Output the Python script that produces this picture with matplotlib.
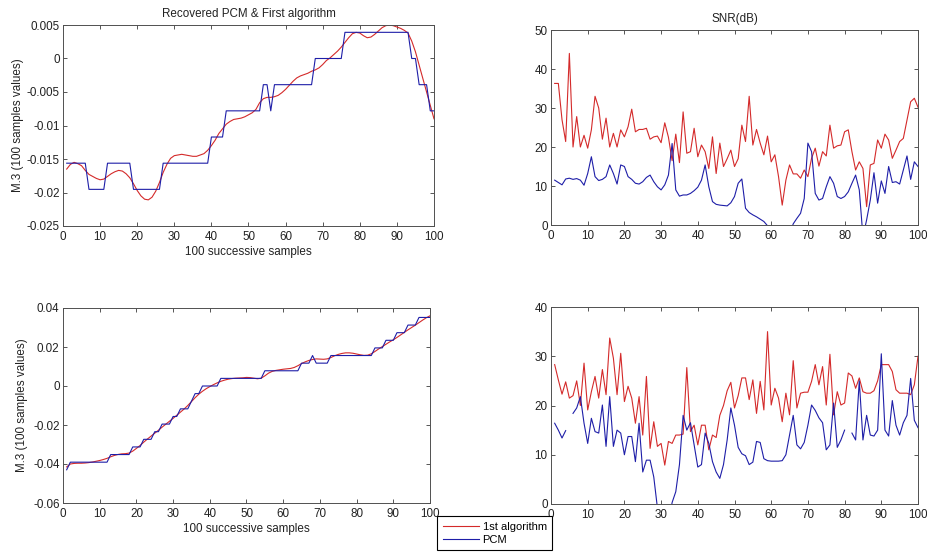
import numpy as np
import matplotlib
matplotlib.use("Agg")
import matplotlib.pyplot as plt
from matplotlib.ticker import FuncFormatter

plt.rcParams['font.family'] = ['Liberation Sans', 'DejaVu Sans']

samples = np.arange(1, 101)
q_step = 1.0 / 256  # PCM quantization step

# ---- top row: block 1 ----
pcm_levels_1 = ([-4] * 6 + [-5] * 5 + [-4] * 7 + [-5] * 8 + [-4] * 13 + [-3] * 4 +
                [-2] * 10 + [-1] * 2 + [-2] * 1 + [-1] * 11 + [0] * 8 + [1] * 18 +
                [0] * 2 + [-1] * 3 + [-2] * 2)
alg_1 = [-0.0165, -0.0158, -0.0155, -0.0157, -0.0160, -0.0167, -0.0173, -0.0176, -0.0179, -0.0181,
         -0.0180, -0.0176, -0.0172, -0.0169, -0.0167, -0.0168, -0.0172, -0.0178, -0.0187, -0.0197,
         -0.0205, -0.0210, -0.0211, -0.0207, -0.0198, -0.0185, -0.0170, -0.0158, -0.0149, -0.0145,
         -0.0144, -0.0143, -0.0144, -0.0145, -0.0146, -0.0146, -0.0144, -0.0142, -0.0137, -0.0130,
         -0.0122, -0.0112, -0.0105, -0.0098, -0.0094, -0.0091, -0.0090, -0.0089, -0.0087, -0.0084,
         -0.0081, -0.0076, -0.0066, -0.0060, -0.0058, -0.0058, -0.0057, -0.0055, -0.0051, -0.0046,
         -0.0040, -0.0034, -0.0029, -0.0026, -0.0024, -0.0022, -0.0019, -0.0017, -0.0014, -0.0009,
         -0.0003, 0.0001, 0.0006, 0.0011, 0.0017, 0.0024, 0.0031, 0.0037, 0.0039, 0.0038,
         0.0034, 0.0031, 0.0032, 0.0036, 0.0041, 0.0046, 0.0049, 0.0050, 0.0049, 0.0047,
         0.0045, 0.0042, 0.0038, 0.0026, 0.0010, -0.0010, -0.0030, -0.0050, -0.0070, -0.0090]
snr_alg_1 = [36.3, 36.3, 27.0, 21.4, 44.0, 20.0, 27.8, 20.0, 23.0, 19.7,
             24.4, 33.0, 30.0, 22.0, 27.4, 20.0, 23.5, 20.0, 24.4, 22.6,
             25.2, 29.7, 23.9, 24.5, 24.5, 24.8, 22.0, 22.6, 22.8, 21.1,
             26.2, 22.5, 16.5, 23.3, 16.0, 29.0, 18.4, 18.8, 24.8, 17.5,
             20.5, 18.8, 14.5, 22.6, 13.2, 21.0, 15.0, 17.0, 19.2, 15.0,
             17.0, 25.6, 21.4, 33.0, 20.5, 24.5, 21.0, 18.0, 22.8, 16.2,
             18.0, 12.4, 5.1, 11.5, 15.4, 13.1, 13.1, 12.0, 14.1, 12.4,
             17.1, 19.7, 15.1, 18.8, 17.7, 25.6, 19.7, 20.3, 20.5, 23.9,
             24.4, 18.8, 14.1, 16.2, 14.5, 4.7, 15.4, 15.8, 21.8, 19.7,
             23.3, 21.8, 17.1, 19.2, 21.4, 22.2, 26.9, 31.6, 32.5, 30.2]
snr_pcm_1 = [11.5, 10.9, 10.3, 11.8, 12.0, 11.7, 11.9, 11.5, 10.2, 13.2,
             17.5, 12.4, 11.4, 11.7, 12.4, 15.4, 13.2, 10.5, 15.4, 15.0,
             12.4, 11.7, 10.7, 10.5, 11.1, 12.2, 12.8, 11.1, 9.8, 9.0,
             10.3, 12.8, 20.9, 9.0, 7.4, 7.7, 7.7, 8.1, 8.8, 9.7,
             11.5, 15.4, 9.8, 6.0, 5.3, 5.1, 5.0, 4.9, 5.7, 7.3,
             10.7, 11.8, 4.3, 3.2, 2.6, 2.1, 1.5, 0.9, -0.2, -2.0,
             -4.0, -5.0, -5.0, -4.0, -2.5, 0.3, 1.7, 3.0, 6.8, 21.0,
             18.8, 8.1, 6.4, 6.8, 9.8, 12.4, 10.7, 7.3, 6.8, 7.3,
             8.5, 10.7, 12.8, 9.0, -3.0, 1.3, 6.4, 13.4, 5.6, 11.3,
             8.1, 15.0, 10.9, 11.1, 10.5, 14.1, 17.7, 11.7, 16.2, 15.0]

# ---- bottom row: block 2 ----
pcm_levels_2 = ([-11] + [-10] * 11 + [-9] * 6 + [-8] * 3 + [-7] * 3 + [-6] * 2 +
                [-5] * 3 + [-4] * 2 + [-3] * 3 + [-2] * 1 + [-1] * 2 + [0] * 5 +
                [1] * 12 + [2] * 10 + [3] * 3 + [4] * 1 + [3] * 4 + [4] * 12 +
                [5] * 3 + [6] * 3 + [7] * 3 + [8] * 3 + [9] * 4)
alg_2 = [-0.0415, -0.0400, -0.0397, -0.0396, -0.0396, -0.0395, -0.0393, -0.0390, -0.0386, -0.0382,
         -0.0377, -0.0371, -0.0363, -0.0356, -0.0351, -0.0348, -0.0347, -0.0344, -0.0334, -0.0320,
         -0.0305, -0.0288, -0.0272, -0.0257, -0.0242, -0.0227, -0.0211, -0.0196, -0.0181, -0.0166,
         -0.0150, -0.0134, -0.0118, -0.0100, -0.0080, -0.0060, -0.0042, -0.0027, -0.0014, -0.0003,
         0.0007, 0.0016, 0.0024, 0.0030, 0.0035, 0.0038, 0.0040, 0.0041, 0.0042, 0.0044,
         0.0043, 0.0040, 0.0037, 0.0040, 0.0052, 0.0066, 0.0075, 0.0080, 0.0083, 0.0086,
         0.0088, 0.0090, 0.0095, 0.0104, 0.0115, 0.0124, 0.0131, 0.0136, 0.0139, 0.0138,
         0.0137, 0.0139, 0.0146, 0.0155, 0.0162, 0.0167, 0.0170, 0.0170, 0.0168, 0.0164,
         0.0160, 0.0157, 0.0158, 0.0165, 0.0177, 0.0190, 0.0202, 0.0214, 0.0226, 0.0237,
         0.0249, 0.0262, 0.0275, 0.0288, 0.0300, 0.0312, 0.0325, 0.0338, 0.0350, 0.0360]
snr_alg_2 = [28.3, 25.2, 22.3, 24.8, 21.5, 22.0, 25.0, 20.0, 28.6, 19.1,
             22.8, 25.9, 21.5, 27.3, 22.2, 33.7, 29.6, 22.2, 30.6, 20.8,
             23.9, 21.5, 16.4, 21.8, 14.0, 25.9, 11.3, 16.7, 11.7, 12.3,
             7.9, 12.7, 12.3, 14.0, 14.0, 14.2, 27.7, 14.7, 16.0, 12.0,
             16.0, 16.0, 11.0, 14.0, 13.5, 18.0, 20.0, 23.0, 24.7, 19.5,
             22.0, 25.6, 25.6, 21.2, 25.2, 18.4, 24.9, 19.1, 35.0, 20.1,
             23.5, 21.5, 16.7, 22.5, 18.1, 29.1, 19.5, 22.5, 22.7, 22.7,
             24.9, 28.3, 24.2, 27.9, 20.1, 30.4, 18.1, 22.8, 20.1, 20.5,
             26.6, 26.0, 23.5, 25.6, 22.8, 22.5, 22.5, 23.0, 25.0, 28.3,
             28.3, 28.3, 26.9, 23.2, 22.5, 22.5, 22.5, 22.2, 24.2, 30.0]
snr_pcm_2 = [16.4, 15.0, 13.4, 14.9, np.nan, 18.4, 19.5, 21.8, 16.4, 12.3,
             17.4, 14.7, 14.4, 20.1, 11.7, 21.8, 11.7, 15.0, 14.4, 10.0,
             13.7, 13.7, 8.6, 16.4, 6.5, 8.9, 8.9, 5.5, -0.8, -4.0,
             -6.0, -4.0, 0.3, 2.5, 8.0, 18.0, 15.0, 16.5, 12.0, 7.5,
             8.0, 14.4, 12.3, 8.6, 6.5, 5.2, 8.0, 13.0, 19.5, 16.0,
             11.5, 10.2, 9.8, 8.0, 8.5, 12.7, 12.5, 9.2, 8.8, 8.7,
             8.7, 8.7, 8.8, 10.0, 14.0, 18.0, 12.0, 11.2, 12.5, 16.0,
             20.1, 19.0, 17.5, 16.5, 11.0, 12.0, 20.5, 11.5, 13.0, 15.0,
             np.nan, 14.4, 13.0, 25.0, 13.0, 18.0, 14.0, 13.8, 15.0, 30.5,
             15.0, 13.8, 21.0, 16.0, 14.0, 16.5, 18.0, 25.5, 17.0, 15.5]

RED = '#d42a2a'
BLUE = '#1e1ea8'
TXT = '#222222'
FS = 8.4
W, H = 927, 555


def px_axes(fig, left, top, right, bottom):
    return fig.add_axes([left / W, 1 - bottom / H, (right - left) / W, (bottom - top) / H])


def style(ax, ylim, yticks):
    ax.set_xlim(0, 100)
    ax.set_ylim(*ylim)
    ax.set_xticks(np.arange(0, 101, 10))
    ax.set_yticks(yticks)
    ax.yaxis.set_major_formatter(FuncFormatter(lambda v, p: '%g' % round(v, 6)))
    ax.tick_params(direction='in', top=True, right=True, length=3, width=0.6,
                   labelsize=FS, colors='#3a3a3a', labelcolor=TXT)
    ax.tick_params(axis='x', pad=3.5)
    ax.tick_params(axis='y', pad=2.5)
    for s in ax.spines.values():
        s.set_linewidth(0.7)
        s.set_color('#505050')


fig = plt.figure(figsize=(W / 100, H / 100), dpi=100)

ax1 = px_axes(fig, 63, 25, 434, 226)
ax1.plot(samples, alg_1, color=RED, lw=0.8)
ax1.plot(samples, np.array(pcm_levels_1) * q_step, color=BLUE, lw=0.8)
style(ax1, (-0.025, 0.005), np.arange(-0.025, 0.0051, 0.005))
ax1.set_title('Recovered PCM & First algorithm', fontsize=FS, pad=6, color=TXT)
ax1.set_xlabel('100 successive samples', fontsize=FS, labelpad=2, color=TXT)
ax1.set_ylabel('M.3 (100 samples values)', fontsize=FS, labelpad=2, color=TXT)

ax2 = px_axes(fig, 551, 30, 918, 225)
ax2.plot(samples, snr_alg_1, color=RED, lw=0.8)
ax2.plot(samples, snr_pcm_1, color=BLUE, lw=0.8)
style(ax2, (0, 50), np.arange(0, 51, 10))
ax2.set_title('SNR(dB)', fontsize=FS, pad=6, color=TXT)

ax3 = px_axes(fig, 63, 308, 430, 503)
ax3.plot(samples, alg_2, color=RED, lw=0.8)
ax3.plot(samples, np.array(pcm_levels_2) * q_step, color=BLUE, lw=0.8)
style(ax3, (-0.06, 0.04), np.arange(-0.06, 0.041, 0.02))
ax3.set_xlabel('100 successive samples', fontsize=FS, labelpad=2, color=TXT)
ax3.set_ylabel('M.3 (100 samples values)', fontsize=FS, labelpad=3.5, color=TXT)

ax4 = px_axes(fig, 551, 307, 918, 504)
l_alg, = ax4.plot(samples, snr_alg_2, color=RED, lw=0.8)
l_pcm, = ax4.plot(samples, snr_pcm_2, color=BLUE, lw=0.8)
style(ax4, (0, 40), np.arange(0, 41, 10))

leg = fig.legend([l_alg, l_pcm], ['1st algorithm', 'PCM'],
                 loc='upper left', bbox_to_anchor=(437 / W, 1 - 516 / H),
                 fontsize=8, frameon=True, fancybox=False, framealpha=1,
                 edgecolor='black', handlelength=3.3, handletextpad=0.3,
                 borderpad=0.5, labelspacing=0.3, borderaxespad=0)
leg.get_frame().set_linewidth(0.8)

fig.savefig('out.png', dpi=100)
